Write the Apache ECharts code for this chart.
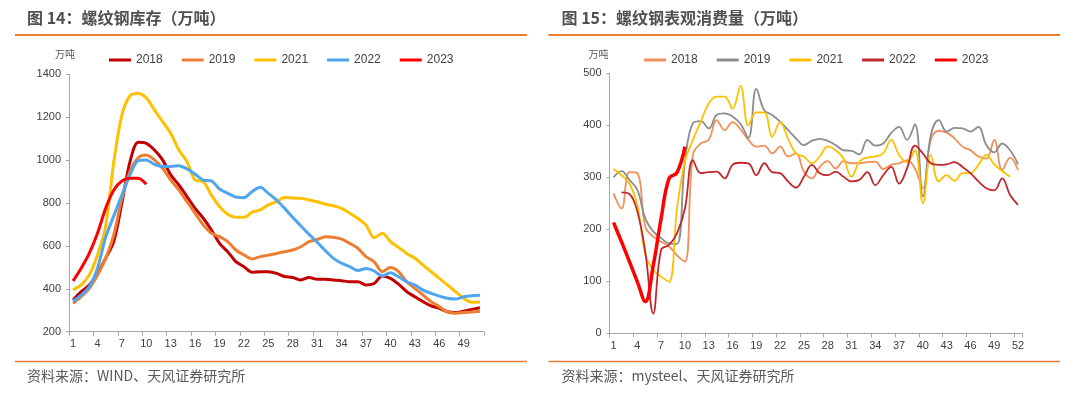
<!DOCTYPE html>
<html><head><meta charset="utf-8">
<script src="https://cdn.jsdelivr.net/npm/echarts@6/dist/echarts.min.js"></script>
<style>
html,body{margin:0;padding:0;background:#fff;width:1080px;height:393px;overflow:hidden}
#l{position:absolute;left:0;top:0;width:540px;height:393px}
#r{position:absolute;left:540px;top:0;width:540px;height:393px}
</style></head>
<body><div id="l"></div><div id="r"></div>
<script>
// ---- Left chart: 螺纹钢库存 (weeks 1..51)
const weeksL = ['1','2','3','4','5','6','7','8','9','10','11','12','13','14','15','16','17','18','19','20','21','22','23','24','25','26','27','28','29','30','31','32','33','34','35','36','37','38','39','40','41','42','43','44','45','46','47','48','49','50','51'];
const inv2018 = [348,387,418,472,542,620,800,993,1083,1078,1047,1001,931,884,830,775,729,674,612,573,527,503,477,480,480,472,457,453,441,453,444,444,441,438,433,433,418,425,460,449,422,387,363,340,320,309,293,289,296,304,312];
const inv2019 = [332,363,402,464,542,651,822,946,1011,1024,1001,962,907,861,806,752,698,659,643,620,581,558,539,550,557,565,573,581,596,620,630,643,640,632,612,589,550,526,480,499,480,433,402,371,340,317,293,286,289,292,295];
const inv2021 = [395,418,465,558,690,990,1210,1300,1310,1290,1234,1179,1125,1047,993,907,900,837,783,747,733,733,757,768,791,806,826,823,822,814,806,794,787,775,752,728,697,638,659,620,593,565,542,511,480,449,418,387,356,337,338];
const inv2022 = [343,371,410,496,640,740,837,931,998,1001,980,970,970,974,959,934,907,903,865,845,828,825,853,873,845,814,775,733,693,654,617,578,542,519,503,485,495,483,460,475,456,433,418,394,379,366,356,352,363,368,370];
const inv2023 = [437,496,566,659,775,861,903,915,915,887];
const yTicksL = {min:200, max:1400, step:200};

// ---- Right chart: 螺纹钢表观消费量 (weeks 1..52)
const weeksR = ['1','2','3','4','5','6','7','8','9','10','11','12','13','14','15','16','17','18','19','20','21','22','23','24','25','26','27','28','29','30','31','32','33','34','35','36','37','38','39','40','41','42','43','44','45','46','47','48','49','50','51','52'];
const con2018 = [269,240,310,308,205,186,176,167,150,138,343,365,372,410,391,406,392,372,359,361,346,359,340,346,311,298,320,331,317,331,327,327,329,330,316,324,327,333,317,279,372,389,386,375,359,352,340,336,372,314,338,314];
const con2019 = [300,312,295,276,221,196,183,173,172,330,404,408,394,420,423,417,403,376,470,429,420,407,391,375,362,370,374,370,362,352,351,344,372,361,365,385,397,372,402,263,381,410,388,395,394,388,397,362,348,365,352,325];
const con2021 = [316,304,288,247,151,122,109,99,240,330,372,407,442,455,455,432,476,400,425,425,378,406,374,346,340,327,340,359,352,336,301,330,338,340,346,372,343,329,352,250,343,292,304,293,308,308,324,343,325,312,301,null];
const con2022 = [null,271,268,234,157,38,161,170,192,240,333,308,310,311,298,324,328,327,304,327,310,308,292,280,301,324,308,304,311,301,292,295,310,285,304,320,288,317,361,346,327,324,325,329,320,308,292,279,275,298,266,247];
const con2023 = [213,176,138,99,61,130,221,298,309,359];
const yTicksR = {min:0, max:500, step:100};

const NUMF = '"Liberation Sans", Arial, sans-serif';
const CJKF = '"Noto Sans CJK SC", sans-serif';
const AXC = '#A6A6A6';
const TXT = '#404040';

function line(name, data, color, width, smooth) {
  return {name:name, type:'line', data:data, smooth:smooth, symbol:'none', showSymbol:false,
    lineStyle:{color:color, width:width}, itemStyle:{color:color}, animation:false, connectNulls:false};
}

function frame(title, source, titleX, lineX1, lineX2, unitX) {
  return [
    {type:'text', left:titleX, top:10, style:{text:title, fontSize:16, fontWeight:'bold', fontFamily:CJKF, fill:'#505050'}},
    {type:'line', shape:{x1:lineX1, y1:35, x2:lineX2, y2:35}, style:{stroke:'#ED7D31', lineWidth:2}},
    {type:'line', shape:{x1:lineX1, y1:361.5, x2:lineX2, y2:361.5}, style:{stroke:'#ED7D31', lineWidth:1.3}},
    {type:'text', left:titleX, top:369, style:{text:source, fontSize:14, fontFamily:CJKF, fill:'#595959'}},
    {type:'text', left:unitX, top:49, style:{text:'万吨', fontSize:10, fontFamily:CJKF, fill:'#595959'}}
  ];
}

function axes(weeks, yt) {
  return {
    xAxis:{type:'category', data:weeks, boundaryGap:true,
      axisLine:{show:true, lineStyle:{color:AXC, width:1}},
      axisTick:{show:true, interval:2, length:4, lineStyle:{color:AXC}},
      axisLabel:{interval:2, fontSize:11, margin:7, color:TXT, fontFamily:NUMF}},
    yAxis:{type:'value', min:yt.min, max:yt.max, interval:yt.step,
      axisLine:{show:true, lineStyle:{color:AXC, width:1}},
      axisTick:{show:true, length:3, lineStyle:{color:AXC}},
      splitLine:{show:false},
      axisLabel:{fontSize:11, margin:8, color:TXT, fontFamily:NUMF, formatter:function(v){return String(v);}}}
  };
}

const legendBase = {top:49, itemWidth:22, itemHeight:3, icon:'rect', itemGap:19,
  textStyle:{fontSize:12, color:TXT, fontFamily:NUMF}};

// Left
const cl = echarts.init(document.getElementById('l'), null, {renderer:'canvas'});
const axL = axes(weeksL, yTicksL);
cl.setOption({
  animation:false, backgroundColor:'#fff',
  grid:{left:69, right:56, top:74.3, bottom:61.3, containLabel:false},
  xAxis:axL.xAxis, yAxis:axL.yAxis,
  legend:Object.assign({left:104, data:['2018','2019','2021','2022','2023']}, legendBase),
  graphic:frame('图 14：螺纹钢库存（万吨）', '资料来源：WIND、天风证券研究所', 27, 15, 527, 55),
  series:[
    line('2018', inv2018, '#C00000', 3, 0.3),
    line('2019', inv2019, '#ED7D31', 3, 0.3),
    line('2021', inv2021, '#FFC000', 3, 0.3),
    line('2022', inv2022, '#4FA5EF', 3, 0.3),
    line('2023', inv2023, '#FF0000', 3, 0.3)
  ]
});

// Right
const cr = echarts.init(document.getElementById('r'), null, {renderer:'canvas'});
const axR = axes(weeksR, yTicksR);
cr.setOption({
  animation:false, backgroundColor:'#fff',
  grid:{left:69.6, right:58, top:73.3, bottom:59.7, containLabel:false},
  xAxis:axR.xAxis, yAxis:axR.yAxis,
  legend:Object.assign({left:99, data:['2018','2019','2021','2022','2023']}, legendBase),
  graphic:frame('图 15：螺纹钢表观消费量（万吨）', '资料来源：mysteel、天风证券研究所', 21.5, 8.5, 520, 48.5),
  series:[
    line('2018', con2018, '#F0905A', 1.8, 0.4),
    line('2019', con2019, '#8C8C8C', 1.8, 0.4),
    line('2021', con2021, '#FFC000', 1.8, 0.4),
    line('2022', con2022, '#C0282D', 1.8, 0.4),
    line('2023', con2023, '#FF0000', 3.5, 0.4)
  ]
});
</script></body></html>
